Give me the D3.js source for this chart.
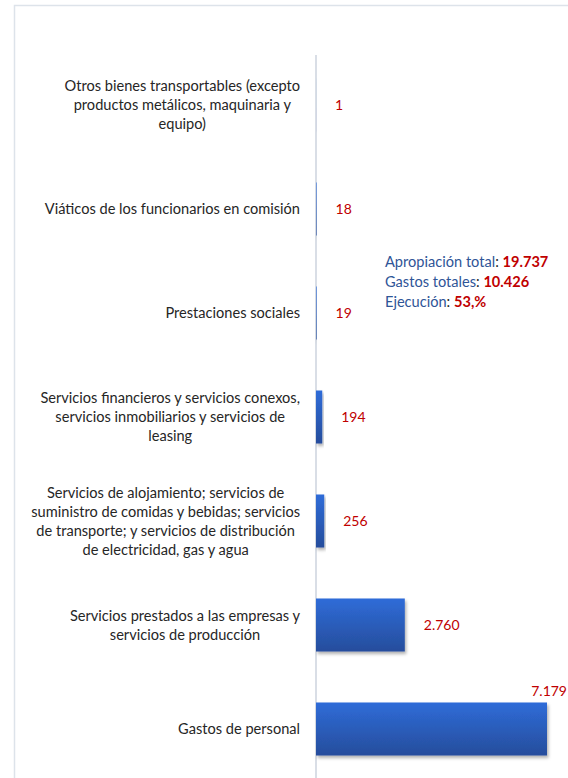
<!DOCTYPE html>
<html>
  <head>
    <meta charset="utf-8" />
    <script src="https://d3js.org/d3.v7.min.js"></script>
    <style>
      body { margin: 0; background: #fff; }
      text { font-family: Lato, "Open Sans", sans-serif; }
    </style>
  </head>
  <body>
    <script>
      const w = 568;
      const h = 778;

      // data, top to bottom as drawn
      const categories = [
        ["Otros bienes transportables (excepto", "productos metálicos, maquinaria y", "equipo)"],
        ["Viáticos de los funcionarios en comisión"],
        ["Prestaciones sociales"],
        ["Servicios financieros y servicios conexos,", "servicios inmobiliarios y servicios de", "leasing"],
        ["Servicios de alojamiento; servicios de", "suministro de comidas y bebidas; servicios", "de transporte; y servicios de distribución", "de electricidad, gas y agua"],
        ["Servicios prestados a las empresas y", "servicios de producción"],
        ["Gastos de personal"]
      ];
      const values = [1, 18, 19, 194, 256, 2760, 7179];
      const valueLabels = ["1", "18", "19", "194", "256", "2.760", "7.179"];

      const summaryNames = ["Apropiación total", "Gastos totales", "Ejecución"];
      const summaryValues = ["19.737", "10.426", "53,%"];

      const rows = categories.map((c, i) => ({ id: i, lines: c, value: values[i], label: valueLabels[i] }));

      const svg = d3.select("body").append("svg").attr("width", w).attr("height", h);

      const defs = svg.append("defs");
      const grad = defs.append("linearGradient").attr("id", "barGrad")
        .attr("x1", 0).attr("y1", 0).attr("x2", 0).attr("y2", 1);
      grad.append("stop").attr("offset", "0%").attr("stop-color", "#2f6cd8");
      grad.append("stop").attr("offset", "100%").attr("stop-color", "#264d9c");
      const shadow = defs.append("filter").attr("id", "shadow")
        .attr("x", "-10%").attr("y", "-10%").attr("width", "130%").attr("height", "140%");
      shadow.append("feDropShadow").attr("dx", 1.5).attr("dy", 2.5).attr("stdDeviation", 1.8)
        .attr("flood-color", "#000").attr("flood-opacity", 0.3);

      // frame of the chart area
      svg.append("path")
        .attr("d", "M14.5," + h + "V5.5H" + w)
        .attr("fill", "none").attr("stroke", "#dde3ea").attr("stroke-width", 1.5);

      const x = d3.scaleLinear().domain([0, 7179]).range([316, 547]);
      const y = d3.scaleBand().domain(rows.map(d => d.id)).range([53, 781])
        .paddingInner(0.49).paddingOuter(0.245);

      // vertical axis line
      svg.append("line")
        .attr("x1", x(0)).attr("x2", x(0)).attr("y1", 55).attr("y2", h)
        .attr("stroke", "#d9dee6").attr("stroke-width", 2);

      svg.append("g").selectAll("rect").data(rows).join("rect")
        .attr("x", x(0))
        .attr("y", d => y(d.id))
        .attr("width", d => x(d.value) - x(0))
        .attr("height", y.bandwidth())
        .attr("fill", "url(#barGrad)")
        .attr("filter", "url(#shadow)");

      // category labels: block right-aligned at 300, lines centred in block
      const fs = 14.6;
      const lineH = 19;
      const catG = svg.append("g").attr("font-size", fs).attr("fill", "#262626");
      rows.forEach(d => {
        const g = catG.append("g");
        const cy = y(d.id) + y.bandwidth() / 2;
        const t = g.selectAll("text").data(d.lines).join("text")
          .attr("y", (l, i) => cy + (i - (d.lines.length - 1) / 2) * lineH)
          .attr("dy", "0.35em")
          .attr("text-anchor", "middle")
          .text(l => l);
        let maxW = 0;
        t.each(function () { maxW = Math.max(maxW, this.getComputedTextLength()); });
        t.attr("x", 300 - maxW / 2);
      });

      // value labels
      svg.append("g").attr("font-size", 14).attr("fill", "#c00000")
        .selectAll("text").data(rows).join("text")
        .attr("x", d => d.value > 5000 ? 567 : x(d.value) + 19)
        .attr("y", d => d.value > 5000 ? y(d.id) - 11 : y(d.id) + y.bandwidth() / 2)
        .attr("dy", "0.35em")
        .attr("text-anchor", d => d.value > 5000 ? "end" : "start")
        .text(d => d.label);

      // summary box
      const sum = svg.append("g").attr("font-size", fs);
      summaryNames.forEach((n, i) => {
        const t = sum.append("text").attr("x", 385).attr("y", 262 + i * 20).attr("dy", "0.35em");
        t.append("tspan").attr("fill", "#2f5597").text(n);
        t.append("tspan").attr("fill", "#262626").text(": ");
        t.append("tspan").attr("fill", "#c00000").attr("font-weight", "bold").text(summaryValues[i]);
      });
    </script>
  </body>
</html>
